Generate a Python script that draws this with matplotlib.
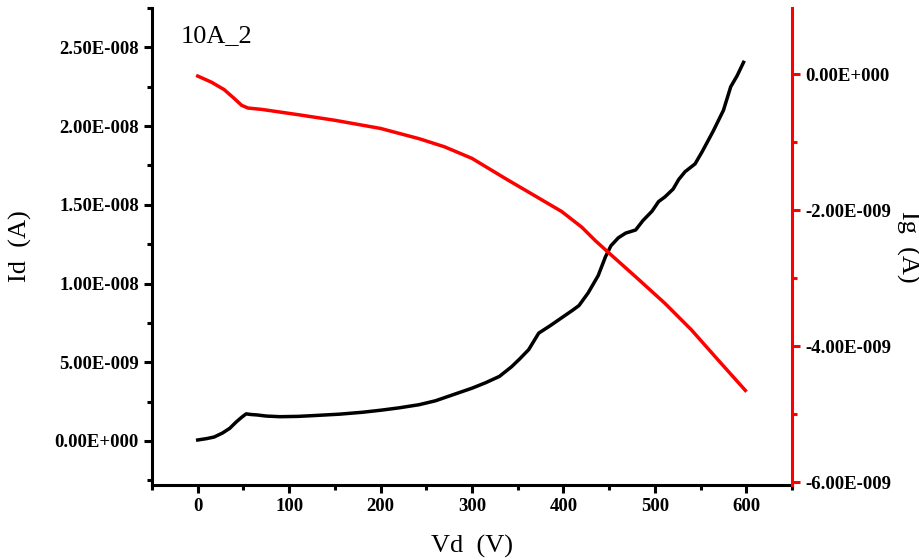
import matplotlib
matplotlib.use("Agg")
import matplotlib.pyplot as plt
import matplotlib.ticker as mticker

# Id vs Vd (left axis, A)
vd_id = [0, 10, 18, 27, 35, 42, 48, 53, 58, 65, 75, 90, 110, 130, 155, 180, 200,
         220, 242, 260, 275, 290, 300, 315, 330, 343, 352, 362, 373, 385, 400, 410,
         417, 427, 438, 446, 452, 460, 468, 479, 487, 497, 504, 511, 520, 526, 533,
         544, 552, 564, 575, 583, 590, 597]
id_vals = [0.06e-9, 0.15e-9, 0.25e-9, 0.5e-9, 0.8e-9, 1.2e-9, 1.5e-9, 1.72e-9, 1.68e-9,
           1.65e-9, 1.58e-9, 1.54e-9, 1.56e-9, 1.62e-9, 1.7e-9, 1.82e-9, 1.95e-9,
           2.1e-9, 2.3e-9, 2.55e-9, 2.85e-9, 3.15e-9, 3.35e-9, 3.7e-9, 4.1e-9, 4.7e-9,
           5.2e-9, 5.8e-9, 6.85e-9, 7.3e-9, 7.9e-9, 8.3e-9, 8.6e-9, 9.4e-9, 10.5e-9,
           11.7e-9, 12.4e-9, 12.9e-9, 13.2e-9, 13.4e-9, 14.0e-9, 14.6e-9, 15.2e-9,
           15.5e-9, 16.0e-9, 16.6e-9, 17.1e-9, 17.6e-9, 18.4e-9, 19.7e-9, 21.0e-9,
           22.5e-9, 23.2e-9, 24.05e-9]

# Ig vs Vd (right axis, A)
vd_ig = [0, 15, 29, 40, 48, 55, 70, 111, 150, 200, 242, 270, 300, 337, 365, 398,
         420, 435, 449, 479, 511, 540, 569, 599]
ig_vals = [-0.03e-9, -0.12e-9, -0.23e-9, -0.36e-9, -0.46e-9, -0.5e-9, -0.52e-9,
           -0.6e-9, -0.68e-9, -0.8e-9, -0.95e-9, -1.07e-9, -1.24e-9, -1.54e-9,
           -1.76e-9, -2.02e-9, -2.25e-9, -2.45e-9, -2.62e-9, -2.98e-9, -3.37e-9,
           -3.76e-9, -4.2e-9, -4.65e-9]

x_ticks = [0, 100, 200, 300, 400, 500, 600]
left_ticks = [0, 5e-9, 1e-8, 1.5e-8, 2e-8, 2.5e-8]
right_ticks = [0, -2e-9, -4e-9, -6e-9]


def sci_fmt(v, pos=None):
    if v == 0:
        return "0.00E+000"
    s = f"{v:.2E}"
    mant, exp = s.split("E")
    e = int(exp)
    return f"{mant}E{'+' if e >= 0 else '-'}{abs(e):03d}"


plt.rcParams["font.family"] = "Liberation Serif"

fig = plt.figure(figsize=(9.19, 5.6), dpi=100)
ax = fig.add_axes([0.1654, 0.1339, 0.6964, 0.8518])
ax2 = ax.twinx()

ax.plot(vd_id, id_vals, color="black", lw=2.5)
ax2.plot(vd_ig, ig_vals, color="#ff0000", lw=2.5)

ax.set_xlim(-50, 650)
ax.set_ylim(-2.8e-9, 2.75e-8)
ax2.set_ylim(-6.04e-9, 0.97e-9)

ax.set_xticks(x_ticks)
ax.xaxis.set_minor_locator(mticker.MultipleLocator(50))
ax.set_yticks(left_ticks)
ax.yaxis.set_minor_locator(mticker.MultipleLocator(2.5e-9))
ax.yaxis.set_major_formatter(mticker.FuncFormatter(sci_fmt))
ax2.set_yticks(right_ticks)
ax2.yaxis.set_minor_locator(mticker.MultipleLocator(1e-9))
ax2.yaxis.set_major_formatter(mticker.FuncFormatter(sci_fmt))

for a in (ax, ax2):
    a.spines["top"].set_visible(False)
    for sp in a.spines.values():
        sp.set_linewidth(2.2)
ax.spines["right"].set_visible(False)
ax2.spines["left"].set_visible(False)
ax2.spines["bottom"].set_visible(False)
ax2.spines["right"].set_color("#ff0000")

ax.tick_params(which="major", direction="out", length=6, width=2.2, labelsize=13.5)
ax.tick_params(which="minor", direction="out", length=3.5, width=2.2)
ax2.tick_params(which="major", direction="out", length=6, width=2.2, labelsize=13.5,
                color="#ff0000", labelcolor="black")
ax2.tick_params(which="minor", direction="out", length=3.5, width=2.2, color="#ff0000")
for lab in ax.get_xticklabels() + ax.get_yticklabels() + ax2.get_yticklabels():
    lab.set_fontweight("bold")

ax.set_xlabel("Vd  (V)", fontsize=19, labelpad=14)
ax.set_ylabel("Id  (A)", fontsize=19, labelpad=16)
ax2.set_ylabel("Ig  (A)", fontsize=19, rotation=270, labelpad=20)

ax.text(0.045, 0.965, "10A_2", transform=ax.transAxes, fontsize=19, va="top", ha="left")

fig.savefig("out.png", dpi=100)
